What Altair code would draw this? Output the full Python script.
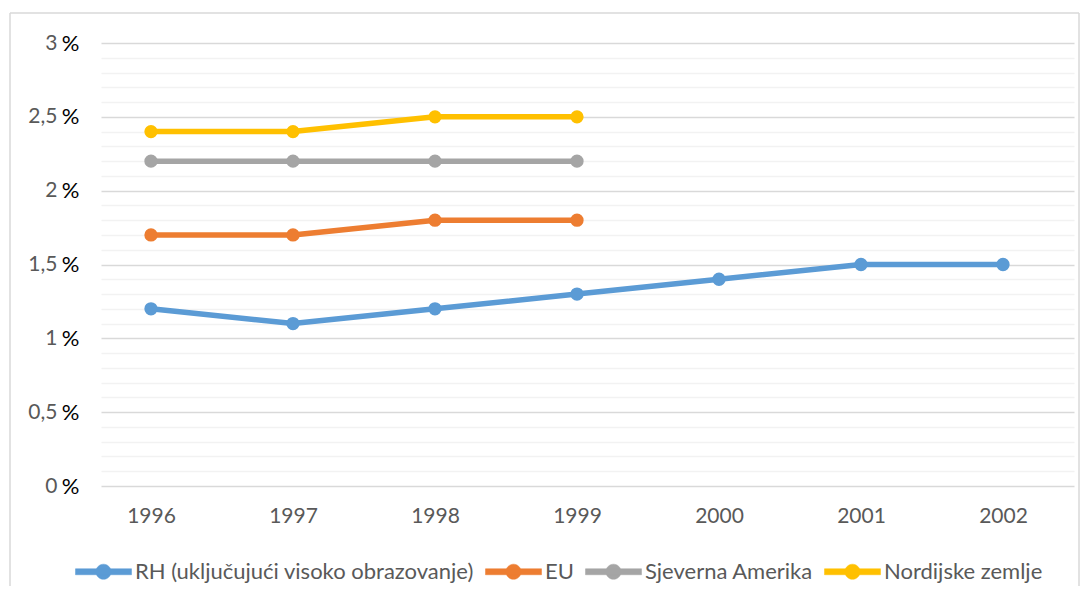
import altair as alt
import pandas as pd

years = [1996, 1997, 1998, 1999, 2000, 2001, 2002]
series_names = ["RH (uključujući visoko obrazovanje)", "EU", "Sjeverna Amerika", "Nordijske zemlje"]
colors = ["#5B9BD5", "#ED7D31", "#A5A5A5", "#FFC000"]

rh = [1.2, 1.1, 1.2, 1.3, 1.4, 1.5, 1.5]
eu = [1.7, 1.7, 1.8, 1.8]
sjeverna_amerika = [2.2, 2.2, 2.2, 2.2]
nordijske = [2.4, 2.4, 2.5, 2.5]

major_ticks = [0, 0.5, 1, 1.5, 2, 2.5, 3]
minor_ticks = [0.1, 0.2, 0.3, 0.4, 0.6, 0.7, 0.8, 0.9, 1.1, 1.2, 1.3, 1.4,
               1.6, 1.7, 1.8, 1.9, 2.1, 2.2, 2.3, 2.4, 2.6, 2.7, 2.8, 2.9]

rows = []
for name, vals in zip(series_names, [rh, eu, sjeverna_amerika, nordijske]):
    for i, v in enumerate(vals):
        rows.append({"year": years[i], "value": v, "series": name})
df = pd.DataFrame(rows)

FONT = "Lato"
TXT = "#595959"

xscale = alt.Scale(domain=[1995.648, 2002.5], nice=False, zero=False)
yscale = alt.Scale(domain=[0, 3], nice=False, zero=True)
cscale = alt.Scale(domain=series_names, range=colors)

x_axis = alt.Axis(values=years, format="d", grid=False, domain=False, ticks=False,
                  labelFont=FONT, labelFontSize=21, labelColor=TXT, labelPadding=19,
                  title=None)

x_enc = alt.X("year:Q", scale=xscale, axis=x_axis)

minor_axis = alt.Axis(orient="left", values=minor_ticks, grid=True, gridColor="#F2F2F2",
                      gridWidth=1.5, labels=False, ticks=False, domain=False, title=None)
pct_axis = alt.Axis(orient="left", values=major_ticks, grid=False, labels=True, ticks=False,
                    domain=False, title=None, labelExpr="'%'", labelFont=FONT,
                    labelFontSize=22, labelColor="#000000", labelPadding=22)
major_axis = alt.Axis(orient="left", values=major_ticks, grid=True, gridColor="#D9D9D9",
                      gridWidth=1.5, ticks=False, domain=False, title=None,
                      labelExpr="replace(format(datum.value, '~g'), '.', ',')",
                      labelFont=FONT, labelFontSize=21, labelColor=TXT, labelPadding=44)

base = alt.Chart(df)

frame_df = pd.DataFrame({"a": [0]})
frame_style = dict(stroke="#D9D9D9", strokeWidth=1.5)
frame_left = alt.Chart(frame_df).mark_rule(**frame_style).encode(
    x=alt.value(-91), y=alt.value(-30), y2=alt.value(545))
frame_top = alt.Chart(frame_df).mark_rule(**frame_style).encode(
    x=alt.value(-91), x2=alt.value(978), y=alt.value(-30))
frame_right = alt.Chart(frame_df).mark_rule(**frame_style).encode(
    x=alt.value(978), y=alt.value(-30), y2=alt.value(545))

minor_layer = base.mark_point(opacity=0).encode(
    x=x_enc, y=alt.Y("value:Q", scale=yscale, axis=minor_axis))
pct_layer = base.mark_point(opacity=0).encode(
    x=x_enc, y=alt.Y("value:Q", scale=yscale, axis=pct_axis))

legend_path = ("M-1,-0.107 L1,-0.107 L1,0.107 L-1,0.107 Z "
               "M0.27,0 A0.27,0.27 0 1,1 -0.27,0 A0.27,0.27 0 1,1 0.27,0 Z")

legend = alt.Legend(
    orient="none", legendX=-26, legendY=500, direction="horizontal", title=None,
    symbolType=legend_path, symbolSize=3136, symbolStrokeWidth=0.5,
    labelFont=FONT, labelFontSize=22, labelColor=TXT, labelOffset=3,
    columnPadding=10, labelLimit=500)

lines = base.mark_line(strokeWidth=5.5, strokeCap="round", strokeJoin="round").encode(
    x=x_enc,
    y=alt.Y("value:Q", scale=yscale, axis=major_axis),
    stroke=alt.Stroke("series:N", scale=cscale, legend=legend),
    detail="series:N",
)

points = base.mark_circle(size=177, opacity=1).encode(
    x=x_enc,
    y=alt.Y("value:Q", scale=yscale, axis=None),
    fill=alt.Fill("series:N", scale=cscale, legend=legend),
)

chart = alt.layer(frame_left, frame_top, frame_right, minor_layer, pct_layer, lines, points).resolve_axis(
    y="independent"
).properties(
    width=973, height=443,
    background="white",
    autosize=alt.AutoSizeParams(type="none"),
    padding={"left": 93, "top": 35, "right": 7, "bottom": 100},
).configure_view(strokeWidth=0)

chart.save("out.html", embed_options={"renderer": "svg", "actions": False})
